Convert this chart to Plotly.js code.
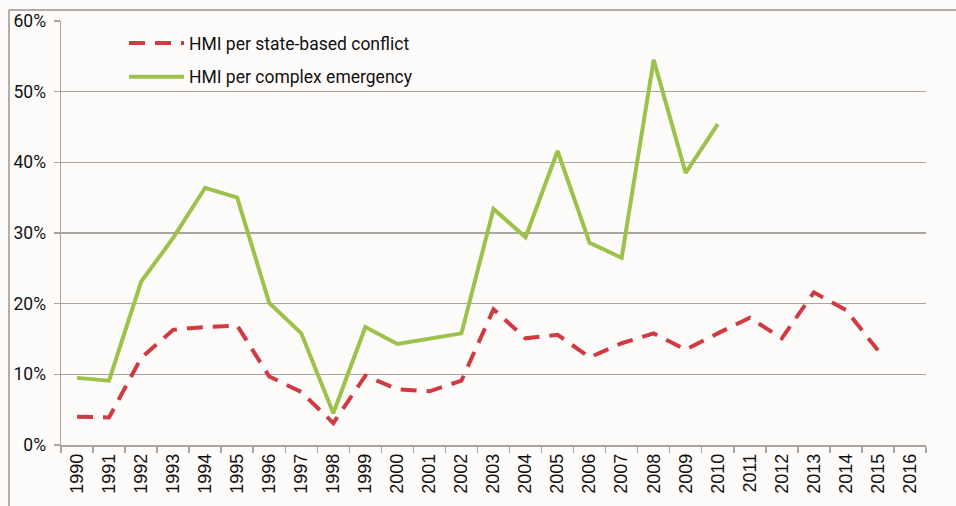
<!DOCTYPE html>
<html>
<head>
<meta charset="utf-8">
<script src="https://cdn.plot.ly/plotly-3.0.1.min.js"></script>
<style>
html,body{margin:0;padding:0;background:#fdfcfa;}
#chart{width:956px;height:506px;}
</style>
</head>
<body>
<div id="chart"></div>
<script>
const years = ['1990','1991','1992','1993','1994','1995','1996','1997','1998','1999','2000','2001','2002','2003','2004','2005','2006','2007','2008','2009','2010','2011','2012','2013','2014','2015','2016'];
const stateBased = [4.0,3.9,12.3,16.3,16.7,16.9,9.7,7.5,3.1,9.8,7.9,7.6,9.1,19.2,15.1,15.6,12.4,14.4,15.8,13.5,15.8,18.0,15.1,21.6,19.1,13.4,null];
const complexEmergency = [9.5,9.1,23.1,29.3,36.4,35.0,20.1,15.8,4.5,16.7,14.3,15.0,15.8,33.4,29.4,41.6,28.6,26.5,54.5,38.5,45.4,null,null,null,null,null,null];
const seriesNames = ['HMI per state-based conflict','HMI per complex emergency'];
const yTicks = [0,10,20,30,40,50,60];
const yTickText = ['0%','10%','20%','30%','40%','50%','60%'];

const traces = [
  {x: years, y: stateBased, name: seriesNames[0], type:'scatter', mode:'lines', legendgroup:'a',
   line:{color:'#d03a40', width:4, dash:'16px,10px'}, connectgaps:false},
  {x: years, y: complexEmergency, name: seriesNames[1], type:'scatter', mode:'lines', legendgroup:'b',
   line:{color:'#9dc24b', width:4}, connectgaps:false}
];

const L=61, R=926, T=21, B=445, W=956, H=506;
const px = v => (v-L)/(R-L);
const py = v => (B-v)/(B-T);

const layout = {
  width: W, height: H,
  margin: {l:L, r:W-R, t:T, b:H-B},
  paper_bgcolor:'#fdfcfa', plot_bgcolor:'#fdfcfa',
  showlegend:true,
  legend:{x:px(124), y:py(25), xanchor:'left', yanchor:'top', bgcolor:'rgba(0,0,0,0)',
          traceorder:'grouped', tracegroupgap:8, itemwidth:55,
          font:{family:'Roboto, sans-serif', size:17.5, color:'#111'}},
  xaxis:{type:'category', categoryorder:'array', categoryarray:years,
         tickangle:-90, tickson:'boundaries', ticks:'outside', ticklen:6, tickcolor:'#a9a4a0', tickwidth:1.5,
         showline:true, linecolor:'#a9a4a0', linewidth:1.5, showgrid:false,
         tickfont:{family:'Liberation Sans, Arial, sans-serif', size:18, color:'#111'},
         range:[-0.5, 26.5], fixedrange:true},
  yaxis:{range:[0,60], tickvals:yTicks, ticktext:yTickText, ticks:'outside', ticklen:6,
         tickcolor:'#a9a4a0', tickwidth:1.5, showline:true, linecolor:'#a9a4a0', linewidth:1.5,
         showgrid:true, gridcolor:'#aaa5a0', gridwidth:1.5, zeroline:false, ticklabelstandoff:4,
         tickfont:{family:'Roboto, sans-serif', size:17.5, color:'#111'}, fixedrange:true},
  shapes:[
    {type:'line', xref:'paper', yref:'paper', x0:px(9), x1:px(956), y0:py(10), y1:py(10), line:{color:'#9a9590', width:1.5}},
    {type:'line', xref:'paper', yref:'paper', x0:px(9), x1:px(9), y0:py(10), y1:py(506), line:{color:'#9a9590', width:1.5}}
  ]
};

Plotly.newPlot('chart', traces, layout, {displayModeBar:false, staticPlot:true});
</script>
</body>
</html>
